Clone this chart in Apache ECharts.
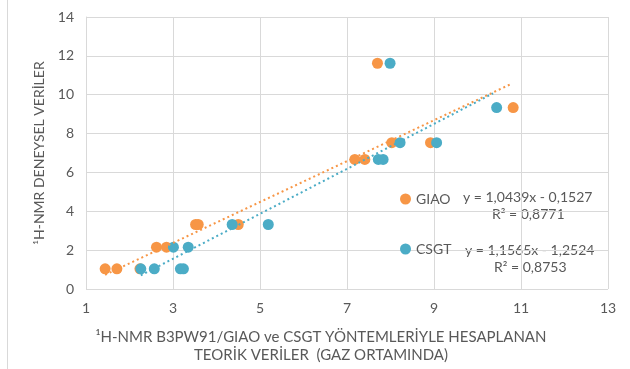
<!DOCTYPE html>
<html>
<head>
<meta charset="utf-8">
<script src="https://cdn.jsdelivr.net/npm/echarts@6/dist/echarts.min.js"></script>
<style>
  html, body { margin: 0; padding: 0; background: #fff; }
  #chart { width: 630px; height: 369px; }
</style>
</head>
<body>
<div id="chart"></div>
<script>
// values
const giaoX = [1.44, 1.71, 2.24, 2.62, 2.85, 3.52, 3.58, 4.50, 7.18, 7.41, 7.70, 8.03, 8.92, 10.82];
const giaoY = [1.04, 1.04, 1.04, 2.15, 2.15, 3.32, 3.32, 3.32, 6.67, 6.67, 11.62, 7.53, 7.53, 9.34];
const csgtX = [2.26, 2.57, 3.17, 3.24, 3.01, 3.35, 4.36, 5.19, 7.72, 7.83, 7.99, 8.22, 9.06, 10.44];
const csgtY = [1.04, 1.04, 1.04, 1.04, 2.15, 2.15, 3.32, 3.32, 6.67, 6.67, 11.62, 7.53, 7.53, 9.34];
// trend line ends as drawn in the picture
const giaoTrendX = [1.44, 10.76];
const giaoTrendY = [0.73, 10.54];
const csgtTrendX = [2.26, 10.36];
const csgtTrendY = [0.70, 10.07];
const giaoEq = ["y = 1,0439x - 0,1527", "R² = 0,8771"];
const csgtEq = ["y = 1,1565x - 1,2524", "R² = 0,8753"];

const zip = (xs, ys) => xs.map((x, i) => [x, ys[i]]);

const ORANGE = "#F79646";
const BLUE = "#4BACC6";
const FONT = "Lato";

let myChart = echarts.init(document.getElementById("chart"));

myChart.setOption({
  animation: false,
  textStyle: { fontFamily: FONT },
  grid: { left: 86, right: 22, top: 17, bottom: 78 },
  xAxis: {
    type: "value",
    min: 1,
    max: 13,
    interval: 2,
    axisLine: { show: false },
    axisTick: { show: false },
    axisLabel: { color: "#595959", fontSize: 14, margin: 12 },
    splitLine: { lineStyle: { color: "#D9D9D9", width: 1 } },
    name: "¹H-NMR B3PW91/GIAO ve CSGT YÖNTEMLERİYLE HESAPLANAN\nTEORİK VERİLER  (GAZ ORTAMINDA)",
    nameLocation: "middle",
    nameGap: 39,
    nameTextStyle: { color: "#595959", fontSize: 15, lineHeight: 18, padding: [0, 0, 0, -52] },
  },
  yAxis: {
    type: "value",
    min: 0,
    max: 14,
    interval: 2,
    axisLine: { show: true, lineStyle: { color: "#D9D9D9", width: 1 } },
    axisTick: { show: false },
    axisLabel: { color: "#595959", fontSize: 14, margin: 12 },
    splitLine: { lineStyle: { color: "#D9D9D9", width: 1 } },
    name: "¹H-NMR DENEYSEL VERİLER",
    nameLocation: "middle",
    nameGap: 40,
    nameTextStyle: { color: "#595959", fontSize: 14 },
  },
  legend: {
    orient: "vertical",
    left: 395,
    top: 187,
    itemGap: 36,
    itemWidth: 11,
    itemHeight: 11,
    icon: "circle",
    textStyle: { color: "#595959", fontSize: 14, fontFamily: FONT },
    data: ["GIAO", "CSGT"],
  },
  graphic: [
    { type: "line", shape: { x1: 7.5, y1: 0, x2: 7.5, y2: 369 }, style: { stroke: "#D9D9D9", lineWidth: 1 } },
    { type: "text", left: 463, top: 190, style: { text: giaoEq[0], fill: "#595959", font: "14px " + FONT } },
    { type: "text", left: 492, top: 207, style: { text: giaoEq[1], fill: "#595959", font: "14px " + FONT } },
    { type: "text", left: 465, top: 243, style: { text: csgtEq[0], fill: "#595959", font: "14px " + FONT } },
    { type: "text", left: 494, top: 260, style: { text: csgtEq[1], fill: "#595959", font: "14px " + FONT } },
  ],
  series: [
    {
      name: "GIAO",
      type: "scatter",
      data: zip(giaoX, giaoY),
      symbolSize: 11,
      itemStyle: { color: ORANGE, opacity: 1 },
    },
    {
      name: "CSGT",
      type: "scatter",
      data: zip(csgtX, csgtY),
      symbolSize: 11,
      itemStyle: { color: BLUE, opacity: 1 },
    },
    {
      name: "GIAO trend",
      type: "line",
      data: zip(giaoTrendX, giaoTrendY),
      showSymbol: false,
      symbol: "none",
      lineStyle: { color: ORANGE, width: 2, type: [2, 3] },
      z: 3,
    },
    {
      name: "CSGT trend",
      type: "line",
      data: zip(csgtTrendX, csgtTrendY),
      showSymbol: false,
      symbol: "none",
      lineStyle: { color: BLUE, width: 2, type: [2, 3] },
      z: 3,
    },
  ],
});
</script>
</body>
</html>
